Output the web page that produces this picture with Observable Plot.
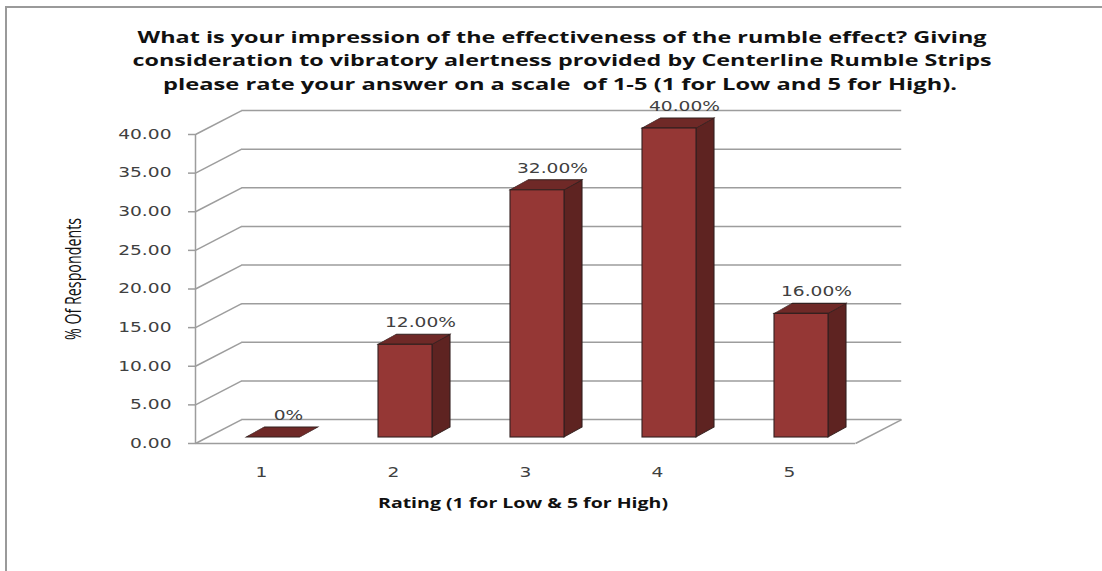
<!DOCTYPE html>
<html>
<head>
<meta charset="utf-8">
<script src="https://cdn.jsdelivr.net/npm/d3@7"></script>
<script src="https://cdn.jsdelivr.net/npm/@observablehq/plot@0.6"></script>
<style>
  html, body { margin: 0; padding: 0; background: #fff; }
  #wrap { position: relative; width: 1102px; height: 571px; overflow: hidden; }
  #frame { position: absolute; left: 5px; top: 6px; width: 1200px; height: 700px;
           border-left: 2px solid #9a9a9a; border-top: 2px solid #9a9a9a; }
  #chart { position: absolute; left: 0; top: 0; }
</style>
</head>
<body>
<div id="wrap"><div id="frame"></div><div id="chart"></div></div>
<script>
// ---- data ----
const ratings = [1, 2, 3, 4, 5];
const percents = [0, 12, 32, 40, 16];
const valueLabels = ["0%", "12.00%", "32.00%", "40.00%", "16.00%"];
const yTicks = [0, 5, 10, 15, 20, 25, 30, 35, 40];
const yTickLabels = ["0.00", "5.00", "10.00", "15.00", "20.00", "25.00", "30.00", "35.00", "40.00"];
const titleLines = [
  "What is your impression of the effectiveness of the rumble effect? Giving",
  "consideration to vibratory alertness provided by Centerline Rumble Strips",
  "please rate your answer on a scale  of 1-5 (1 for Low and 5 for High)."
];
const xTitle = "Rating (1 for Low & 5 for High)";
const yTitle = "% Of Respondents";

// 3D depth of the walls, in data units (category fraction, percent)
const wallDX = 0.35;
const wallDY = 3.1;

const table = ratings.map((r, i) => ({rating: r, pct: percents[i], label: valueLabels[i]}));

const grid = "#9d9d9d";
const txt = "#404040";

const plot = Plot.plot({
  width: 1102,
  height: 571,
  marginLeft: 195,
  marginRight: 247,
  marginTop: 134,
  marginBottom: 128,
  style: {background: "transparent", fontFamily: "DejaVu Sans", fontSize: "13.5px", color: txt},
  x: {type: "linear", domain: [0.5, 5.5], ticks: ratings, tickFormat: d => String(d), tickSize: 0, tickPadding: 24, label: null},
  y: {domain: [0, 40], ticks: yTicks, tickFormat: d => yTickLabels[yTicks.indexOf(d)], tickSize: 7, tickPadding: 17, label: null},
  marks: [
    // left wall diagonals
    Plot.link(yTicks, {x1: 0.5, x2: 0.5 + wallDX, y1: d => d, y2: d => d + wallDY, stroke: grid, strokeWidth: 1.5}),
    // back wall gridlines
    Plot.ruleY(yTicks, {y: d => d + wallDY, x1: 0.5 + wallDX, x2: 5.5 + wallDX, stroke: grid, strokeWidth: 1.5}),
    // floor front edge and right edge
    Plot.ruleY([0], {x1: 0.5, x2: 5.5, stroke: grid, strokeWidth: 1.5}),
    Plot.link([0], {x1: 5.5, x2: 5.5 + wallDX, y1: 0, y2: wallDY, stroke: grid, strokeWidth: 1.5}),
    // y axis line
    Plot.ruleX([0.5], {y1: 0, y2: 40, stroke: grid, strokeWidth: 1.5}),
    // bars: side face, top face, front face
    Plot.rect(table, {x1: d => d.rating - 0.5, x2: d => d.rating + 0.5, y1: 0, y2: "pct",
      insetLeft: 93, insetRight: 21, dx: 12, dy: -6, fill: "#5e2321", stroke: "#33201f", strokeWidth: 1.1}),
    Plot.rect(table, {x1: d => d.rating - 0.5, x2: d => d.rating + 0.5, y1: "pct", y2: "pct",
      insetLeft: 39, insetRight: 39, insetTop: -10, insetBottom: 0, dx: 12, dy: -6, fill: "#6f2927", stroke: "#33201f", strokeWidth: 1.1}),
    Plot.rect(table, {x1: d => d.rating - 0.5, x2: d => d.rating + 0.5, y1: 0, y2: "pct",
      insetLeft: 39, insetRight: 39, dx: 12, dy: -6, fill: "#953735", stroke: "#33201f", strokeWidth: 1.1}),
    // value labels
    Plot.text(table, {x: "rating", y: "pct", text: "label", dx: 27, dy: -28, fill: txt, fontSize: 13.5, fontFamily: "DejaVu Sans"})
  ]
});

document.getElementById("chart").appendChild(plot);
const svg = d3.select(plot);

// axis styling
svg.selectAll('g[aria-label^="y-axis"] path, g[aria-label^="y-axis"] line').attr("stroke", grid).attr("stroke-width", 1.5);
svg.selectAll('g[aria-label^="y-axis"] text, g[aria-label^="x-axis"] text').attr("fill", txt);

// 3D faces via skew
const rects = plot.querySelectorAll('g[aria-label="rect"]');
rects[0].querySelectorAll("rect").forEach(r => {
  r.style.transformBox = "fill-box"; r.style.transformOrigin = "0 100%"; r.style.transform = "skewY(-29.05deg)";
});
rects[1].querySelectorAll("rect").forEach(r => {
  r.style.transformBox = "fill-box"; r.style.transformOrigin = "0 100%"; r.style.transform = "skewX(-60.95deg)";
});

// titles
const tg = svg.append("g").attr("fill", "#111").attr("font-family", "'Open Sans'").attr("font-weight", "bold").attr("font-size", 16.5).attr("text-anchor", "middle");
const titleSpec = [[562, 43, 849], [562, 66, 859], [560, 90, 794]];
titleLines.forEach((t, i) => {
  tg.append("text").attr("x", titleSpec[i][0]).attr("y", titleSpec[i][1])
    .attr("textLength", titleSpec[i][2]).attr("lengthAdjust", "spacingAndGlyphs").text(t);
});
svg.append("text").attr("x", 523).attr("y", 508).attr("text-anchor", "middle")
  .attr("font-family", "'Open Sans'").attr("font-weight", "bold").attr("font-size", 13.5).attr("fill", "#111")
  .attr("textLength", 290).attr("lengthAdjust", "spacingAndGlyphs").text(xTitle);
svg.append("text").attr("transform", "translate(81,279) rotate(-90) scale(1,1.4)").attr("text-anchor", "middle")
  .attr("font-family", "'Liberation Sans Narrow', 'Open Sans'").attr("font-size", 15).attr("fill", "#111")
  .attr("textLength", 122).attr("lengthAdjust", "spacingAndGlyphs").text(yTitle);

// horizontal stretch of the Verdana-like labels
const stretch = 1.38;
svg.selectAll('g[aria-label^="y-axis"] text, g[aria-label^="x-axis"] text, g[aria-label="text"] text').each(function() {
  const w = this.getComputedTextLength();
  if (w > 0) { this.setAttribute("textLength", w * stretch); this.setAttribute("lengthAdjust", "spacingAndGlyphs"); }
});
</script>
</body>
</html>
